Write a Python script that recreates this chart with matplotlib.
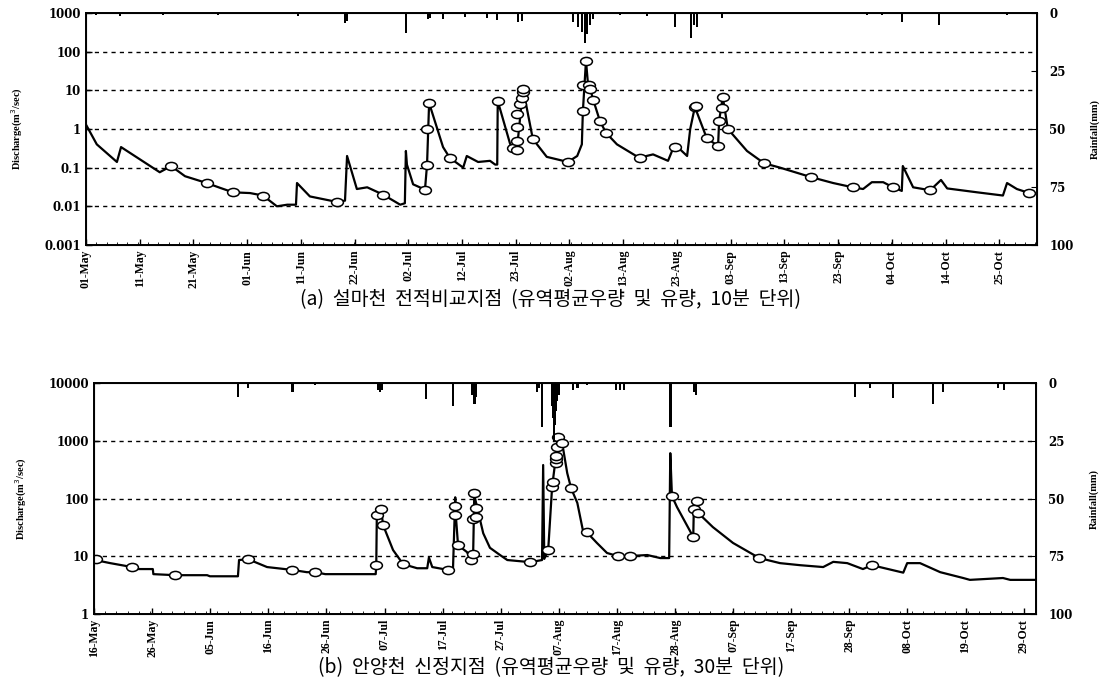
import matplotlib
matplotlib.use("Agg")
import matplotlib.pyplot as plt
import numpy as np
from matplotlib.path import Path
from matplotlib.transforms import Affine2D
from matplotlib.ticker import FixedLocator

plt.rcParams['font.family'] = ['Liberation Serif', 'DejaVu Serif']

# ---- (a) Seolmacheon, days counted from 01-May ----
a_day = [0, 2.1, 6.0, 6.8, 14.3, 16.5, 19.2, 23.4, 26, 28.5, 31.8, 34.3, 37, 39, 40.7, 40.9,
         43.4, 48.6, 50.2, 50.6, 52.5, 54.5, 57.6, 60.9, 61.8, 62.0, 62.2, 63.4, 65.7, 66.1,
         66.5, 69.2, 70.5, 73.1, 73.8, 76, 78.3, 79.3, 79.7, 79.8, 82.2, 83.5, 84.7, 86.6,
         89.3, 93.4, 95.2, 96.1, 96.3, 96.9, 97.3, 97.7, 98.3, 99.6, 100.8, 102.9, 107.2,
         109.9, 112.8, 114.1, 116.5, 117.1, 118.0, 120.3, 122.5, 122.7, 123.4, 124.4, 128.1,
         131.4, 134.5, 140.5, 144.8, 148.6, 150.6, 152.3, 154.5, 156.4, 158.1, 158.3, 160.3,
         163.6, 165.7, 166.9, 172.7, 177.7, 178.5, 180.4, 182.8]
a_q = [1.3, 0.4, 0.14, 0.34, 0.076, 0.11, 0.06, 0.04, 0.03, 0.023, 0.022, 0.019, 0.01, 0.011,
       0.011, 0.04, 0.018, 0.013, 0.014, 0.2, 0.028, 0.031, 0.02, 0.011, 0.012, 0.27, 0.12,
       0.037, 0.027, 0.12, 4.7, 0.34, 0.18, 0.1, 0.2, 0.14, 0.15, 0.12, 0.12, 5.3, 0.41, 0.28,
       11, 0.55, 0.19, 0.14, 0.2, 0.4, 2.9, 58, 14, 11, 5.7, 1.6, 0.79, 0.4, 0.18, 0.22, 0.15,
       0.4, 0.2, 1.0, 3.7, 0.58, 0.36, 1.6, 6.8, 1.0, 0.27, 0.13, 0.1, 0.057, 0.04, 0.031,
       0.028, 0.042, 0.042, 0.031, 0.025, 0.11, 0.031, 0.026, 0.048, 0.029, 0.023, 0.019,
       0.04, 0.028, 0.022]
a_mark_day = [16.5, 23.4, 28.5, 34.3, 48.6, 57.6, 65.7, 66.1, 66.1, 66.5, 70.5, 79.8, 82.8,
              83.5, 83.5, 83.5, 83.5, 84.1, 84.5, 84.7, 84.7, 86.6, 93.4, 96.3, 96.3, 96.9,
              97.5, 97.7, 98.3, 99.6, 100.8, 107.4, 114.1, 118.0, 118.2, 120.3, 122.5, 122.7,
              123.3, 123.4, 124.4, 131.4, 140.5, 148.6, 156.4, 163.6, 182.8]
a_mark_q = [0.11, 0.04, 0.023, 0.019, 0.013, 0.02, 0.027, 0.12, 1.0, 4.7, 0.18, 5.3, 0.32,
            0.28, 0.49, 1.1, 2.4, 4.5, 6.4, 9, 11, 0.55, 0.14, 2.9, 14, 58, 14, 11, 5.7, 1.6,
            0.79, 0.18, 0.35, 3.7, 4.0, 0.58, 0.36, 1.6, 3.5, 6.8, 1.0, 0.13, 0.057, 0.031,
            0.031, 0.026, 0.022]
a_rain_day = [1.9, 6.6, 14.9, 25.6, 41.1, 50.2, 50.6, 62.0, 66.3, 66.7, 69.2, 73.4, 77.7, 79.7,
              83.7, 84.5, 94.4, 95.3, 96.1, 96.7, 97.1, 97.7, 98.3, 103.5, 108.7, 114.1, 117.2,
              117.8, 118.4, 123.3, 151.4, 154.3, 158.1, 165.3, 178.5]
a_rain_mm = [1, 1.5, 1, 0.8, 1.5, 4.5, 3.5, 8.5, 2.5, 2, 2.5, 1.8, 2, 3, 4, 3.5, 4, 6, 8, 13,
             9, 5, 2.5, 1, 1.5, 6, 11, 5, 6, 2, 1, 1, 4, 5, 1]
a_ticklabels = ['01-May', '11-May', '21-May', '01-Jun', '11-Jun', '22-Jun', '02-Jul', '12-Jul',
                '23-Jul', '02-Aug', '13-Aug', '23-Aug', '03-Sep', '13-Sep', '23-Sep', '04-Oct',
                '14-Oct', '25-Oct']
a_ylabels = ['0.001', '0.01', '0.1', '1', '10', '100', '1000']

# ---- (b) Anyangcheon, days counted from 16-May ----
b_day = [0.2, 2.9, 6.8, 7.0, 10.5, 10.6, 14.5, 20.2, 20.7, 25.7, 25.9, 27.5, 30.9, 35.4, 38.0,
         39.5, 41.3, 50.3, 50.4, 50.5, 51.3, 51.6, 53.4, 55.2, 57.7, 59.5, 59.8, 60.4, 63.2,
         64.1, 64.5, 64.6, 65.0, 66.6, 67.3, 67.7, 67.9, 68.4, 69.5, 70.7, 72.5, 73.8, 77.9,
         80.0, 80.2, 80.4, 81.1, 81.8, 82.5, 82.9, 83.6, 84.5, 85.2, 86.3, 87.3, 88.0, 89.8,
         91.6, 93.6, 95.7, 98.8, 101.1, 102.7, 102.9, 103.2, 104.1, 107.0, 107.1, 107.7,
         107.9, 110.5, 114.1, 118.8, 122.5, 126.1, 130.2, 132.0, 134.5, 137.3, 138.9, 144.5,
         145.2, 147.5, 151.1, 155.2, 156.4, 162.3, 163.6, 168.0]
b_q = [8.6, 7.6, 6.5, 6.0, 6.0, 4.9, 4.7, 4.7, 4.5, 4.5, 8.6, 8.9, 6.5, 5.8, 5.3, 5.3, 4.9,
       4.9, 7, 52, 65, 35, 12.8, 7.3, 6.2, 6.2, 9.5, 6.5, 5.8, 6, 105, 52, 15.6, 11.8, 8.6, 11,
       115, 71, 25, 14, 10.5, 8.6, 7.9, 8.6, 380, 9, 12.8, 160, 550, 1150, 910, 275, 150, 84,
       28, 26, 17, 11.4, 10, 10.1, 10.5, 9.3, 9.3, 610, 110, 71, 21.6, 65, 90, 56, 32, 17,
       9.3, 7.6, 7, 6.5, 8, 7.6, 6, 7, 5.2, 7.6, 7.6, 5.3, 4.2, 3.9, 4.2, 3.9, 3.9]
b_mark_day = [0.4, 6.8, 14.5, 27.5, 35.4, 39.5, 50.3, 50.5, 51.3, 51.6, 55.2, 63.2, 64.5,
              64.5, 65.0, 67.3, 67.6, 67.7, 67.9, 68.2, 68.2, 77.9, 81.1, 81.8, 82.0, 82.5,
              82.5, 82.5, 82.7, 82.9, 83.6, 85.2, 88.0, 93.6, 95.7, 103.2, 107.0, 107.1, 107.7,
              107.9, 118.8, 138.9]
b_mark_q = [8.9, 6.5, 4.7, 8.9, 5.8, 5.3, 7, 52, 65, 35, 7.3, 5.8, 52, 74, 15.6, 8.6, 11, 44,
            124, 68, 48, 7.9, 12.8, 160, 190, 410, 480, 550, 780, 1150, 910, 150, 26, 10,
            10.1, 110, 21.6, 65, 90, 56, 9.3, 7]
b_rain_day = [25.7, 27.5, 35.4, 39.5, 50.7, 51.1, 51.4, 59.3, 64.1, 67.5, 67.9, 68.2, 79.1,
              79.5, 80.0, 81.8, 82.0, 82.1, 82.3, 82.5, 82.7, 83.0, 85.5, 86.3, 88.0, 93.2,
              93.9, 94.6, 102.9, 107.1, 107.5, 135.9, 138.6, 142.7, 149.8, 151.6, 161.4, 162.5]
b_rain_mm = [6, 2, 4, 1, 3, 4, 3, 7, 10, 5, 9, 6, 4, 2, 19, 10, 15, 25, 18, 12, 8, 5, 3, 2, 1,
             3, 3, 3, 19, 4, 5, 6, 2, 6.5, 9, 4, 2, 3]
b_ticklabels = ['16-May', '26-May', '05-Jun', '16-Jun', '26-Jun', '07-Jul', '17-Jul', '27-Jul',
                '07-Aug', '17-Aug', '28-Aug', '07-Sep', '17-Sep', '28-Sep', '08-Oct', '19-Oct',
                '29-Oct']
b_ylabels = ['1', '10', '100', '1000', '10000']

rain_ticks = [0, 25, 50, 75, 100]

# wide open ellipse for the sample markers
ellipse = Affine2D().scale(1.45, 1.0).transform_path(Path.unit_circle())

fig = plt.figure(figsize=(11.02, 6.93), dpi=100)


def panel(rect, day, q, mday, mq, rday, rmm, tick_labels, tick_span, xmax, ylabels, caption, cap_y):
    ax = fig.add_axes(rect)
    ax.plot(day, q, color='black', lw=1.6, zorder=3)
    ax.plot(mday, mq, linestyle='none', marker=ellipse, markersize=8.5,
            markerfacecolor='white', markeredgecolor='black', markeredgewidth=1.1, zorder=4)
    ax.set_yscale('log')
    yvals = [float(s) for s in ylabels]
    ax.set_ylim(yvals[0], yvals[-1])
    ax.yaxis.set_major_locator(FixedLocator(yvals))
    ax.yaxis.set_minor_locator(FixedLocator([]))
    ax.set_yticklabels(ylabels, fontsize=8.5, fontweight='bold', family='DejaVu Serif')
    for v in yvals[1:-1]:
        ax.axhline(v, color='black', lw=1.0, ls=(0, (3, 3)), zorder=1)
    ax.set_xlim(0, xmax)
    ax.set_xticks(np.linspace(0, tick_span, len(tick_labels)))
    ax.set_xticklabels(tick_labels, rotation=90, fontsize=8.5, fontweight='bold')
    ax.xaxis.set_minor_locator(FixedLocator(np.arange(0, xmax, 2.0)))
    ax.tick_params(axis='x', which='minor', length=2, direction='in')
    ax.tick_params(axis='both', which='major', direction='in', length=4, width=1)
    ax.set_ylabel('Discharge(m$^3$/sec)', fontsize=7.5, fontweight='bold', labelpad=14)
    for s in ax.spines.values():
        s.set_linewidth(1.4)

    ax2 = ax.twinx()
    ax2.bar(rday, rmm, width=0.45, color='black', zorder=2)
    ax2.set_ylim(100, 0)
    ax2.set_yticks(rain_ticks)
    ax2.set_yticklabels([str(t) for t in rain_ticks], fontsize=8.5, fontweight='bold',
                        family='DejaVu Serif')
    ax2.tick_params(axis='y', direction='in', length=4, pad=9)
    ax2.set_ylabel('Rainfall(mm)', fontsize=7.5, fontweight='bold', labelpad=12)
    ax2.set_xlim(0, xmax)

    fig.text(0.5, cap_y, caption, ha='center', va='center', fontsize=14,
             family=['Noto Sans CJK KR', 'DejaVu Sans'])


panel([0.078, 0.6465, 0.863, 0.3348], a_day, a_q, a_mark_day, a_mark_q, a_rain_day, a_rain_mm,
      a_ticklabels, 177, 184.3, a_ylabels,
      '(a)  설마천  전적비교지점  (유역평균우량  및  유량,  10분  단위)', 1 - 300 / 693)
panel([0.0853, 0.114, 0.8548, 0.3333], b_day, b_q, b_mark_day, b_mark_q, b_rain_day, b_rain_mm,
      b_ticklabels, 166, 168.2, b_ylabels,
      '(b)  안양천  신정지점  (유역평균우량  및  유량,  30분  단위)', 1 - 668 / 693)

fig.savefig('out.png', dpi=100)
